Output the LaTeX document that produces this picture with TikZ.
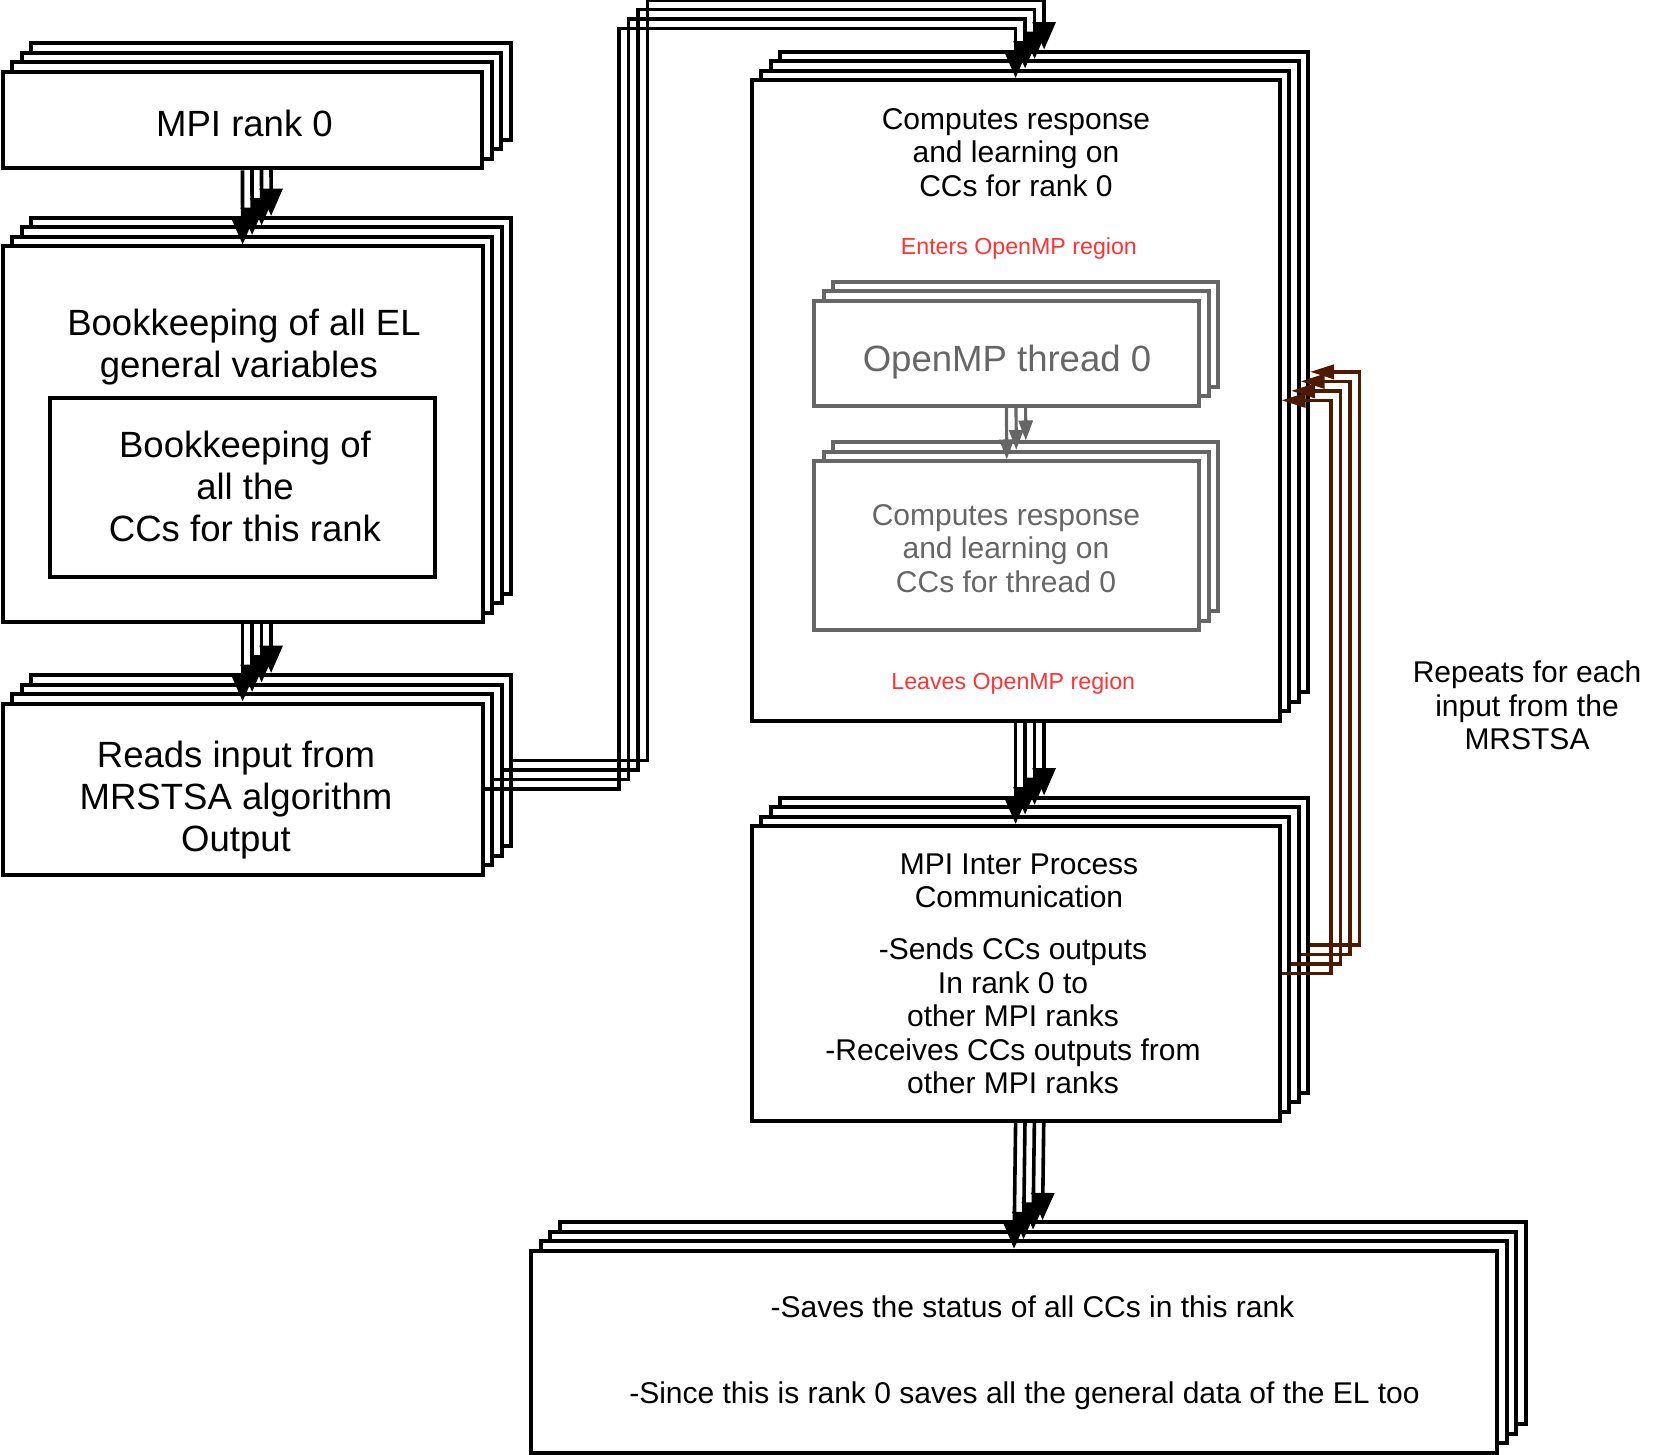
\documentclass[tikz,border=0pt]{standalone}
\usepackage{fontspec}
\setmainfont{Liberation Sans}
\usetikzlibrary{arrows.meta}
\definecolor{mpgray}{HTML}{666666}
\definecolor{mpbrown}{HTML}{4D1A00}
\definecolor{mpred}{HTML}{FF3333}
\tikzset{
  box/.style={draw, fill=white, line width=3pt, inner sep=0pt, rectangle},
  gbox/.style={box, draw=mpgray},
  conn/.style={line width=2.7pt, -{Triangle[length=20.5pt,width=17pt]}},
  gconn/.style={line width=2.4pt, draw=mpgray, -{Triangle[length=15pt,width=10.5pt]}},
  bconn/.style={line width=2.7pt, draw=mpbrown, -{Triangle[length=18pt,width=10.5pt]}},
  bigtxt/.style={font=\fontsize{27.4pt}{31.4pt}\selectfont, align=center, inner sep=0pt},
  txt/.style={font=\fontsize{22.5pt}{25.1pt}\selectfont, align=center, inner sep=0pt},
  redtxt/.style={font=\fontsize{17.4pt}{20pt}\selectfont, text=mpred, inner sep=0pt},
}
\begin{document}
\begin{tikzpicture}[x=0.75pt,y=-0.75pt]
\useasboundingbox (0,0) rectangle (1668,1455);
\fill[white] (0,0) rectangle (1668,1455);
% stacked main boxes and connectors, back to front
\foreach \k in {3,2,1,0}{
  \pgfmathsetmacro\o{9.5*\k}
  \node[box, minimum width=359.7pt, minimum height=72.45pt] (A\k) at (242.5+\o,120-\o) {};
  \node[box, minimum width=359.85pt, minimum height=281.85pt] (B\k) at (242.6+\o,434.4-\o) {};
  \node[box, minimum width=359.85pt, minimum height=128.25pt] (C\k) at (242.6+\o,789-\o) {};
  \node[box, minimum width=395.85pt, minimum height=480.5pt] (D\k) at (1015.6+\o,400.35-\o) {};
  \node[box, minimum width=395.85pt, minimum height=221.25pt] (G\k) at (1015.6+\o,973.5-\o) {};
  \node[box, minimum width=724.5pt, minimum height=151.7pt] (H\k) at (1014+\o,1351.85-\o) {};
  \draw[conn] (A\k.south) -- (B\k.north);
  \draw[conn] (B\k.south) -- (C\k.north);
  \draw[conn] (C\k.east) -- ++(134.5,0) |- ([yshift=37.1pt]D\k.north) -- (D\k.north);
  \draw[conn] (D\k.south) -- (G\k.north);
  \draw[conn] (G\k.south) -- (H\k.north);
  \draw[bconn] (G\k.east) -- ++(49.5,0) |- (D\k.east);
}
% inner bookkeeping box
\node[box, minimum width=288.8pt, minimum height=134pt] (inner) at (242.55,487.25) {};
% OpenMP stacked boxes
\foreach \k in {2,1,0}{
  \pgfmathsetmacro\o{9.5*\k}
  \node[gbox, minimum width=288.75pt, minimum height=78.75pt] (E\k) at (1006.5+\o,353.5-\o) {};
  \node[gbox, minimum width=288.4pt, minimum height=126.4pt] (F\k) at (1006.75+\o,545.75-\o) {};
  \draw[gconn] (E\k.south) -- (F\k.north);
}
% texts
\node[bigtxt] (tA) at (244.5,123) {MPI rank 0};
\node[bigtxt] (tB) at (244,346.8) {Bookkeeping of all EL\\general variables\hspace*{0.28em}};
\node[bigtxt] (tI) at (245,486.5) {Bookkeeping of\\all the\\CCs for this rank};
\node[bigtxt] (tC) at (236,799.8) {Reads input from\\MRSTSA algorithm\\Output};
\node[txt] (tD) at (1016,152.5) {Computes response\\and learning on\\CCs for rank 0};
\node[redtxt] (en) at (1018.9,248.4) {Enters OpenMP region};
\node[redtxt] (lv) at (1013.3,683.1) {Leaves OpenMP region};
\node[bigtxt, text=mpgray] (tE) at (1007,361.7) {OpenMP thread 0};
\node[txt, text=mpgray] (tF) at (1006,548.5) {Computes response\\and learning on\\CCs for thread 0};
\node[txt] (tG1) at (1019,880.75) {MPI Inter Process\\Communication};
\node[txt] (tG2) at (1013,1016) {-Sends CCs outputs\\In rank 0 to\\other MPI ranks\\-Receives CCs outputs from\\other MPI ranks};
\node[txt] (tH1) at (1032.5,1307) {-Saves the status of all CCs in this rank};
\node[txt] (tH2) at (1024.5,1396.2) {-Since this is rank 0 saves all the general data of the EL too};
\node[txt] (rep) at (1527,705.5) {Repeats for each\\input from the\\MRSTSA};
\end{tikzpicture}
\end{document}
